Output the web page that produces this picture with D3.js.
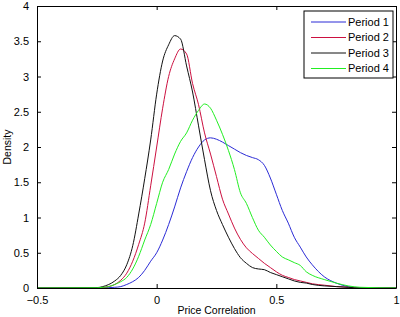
<!DOCTYPE html>
<html>
<head>
<meta charset="utf-8">
<script src="https://cdn.jsdelivr.net/npm/d3@7"></script>
<style>
  body { margin: 0; background: #fff; }
  svg { display: block; font-family: 'Liberation Sans', Arial, sans-serif; }
</style>
</head>
<body>
<div id="chart"></div>
<script>
// price correlation grid (x values)
const xs = [-0.5, -0.25, -0.225, -0.2, -0.175, -0.15, -0.125, -0.1, -0.075, -0.05, -0.025, 0,
  0.025, 0.05, 0.075, 0.1, 0.125, 0.15, 0.175, 0.2, 0.225, 0.25, 0.275, 0.3, 0.325, 0.35,
  0.375, 0.4, 0.425, 0.45, 0.475, 0.5, 0.525, 0.55, 0.575, 0.6, 0.625, 0.65,
  0.7, 0.75, 0.8, 0.85, 1.0]

// densities
const period1 = [0, 0, 0.003, 0.005, 0.01, 0.02, 0.05, 0.09, 0.15, 0.25, 0.38, 0.5,
  0.68, 0.9, 1.15, 1.42, 1.65, 1.85, 2.0, 2.1, 2.13, 2.11, 2.07, 2.02, 1.97, 1.92,
  1.88, 1.85, 1.82, 1.74, 1.56, 1.33, 1.1, 0.92, 0.72, 0.58, 0.44, 0.33,
  0.16, 0.07, 0.02, 0.005, 0]
const period2 = [0, 0.003, 0.008, 0.02, 0.05, 0.11, 0.21, 0.38, 0.62, 0.92, 1.45, 2.0,
  2.55, 3.0, 3.25, 3.39, 3.32, 2.9, 2.6, 2.2, 1.9, 1.58, 1.26, 1.05, 0.85, 0.69,
  0.57, 0.49, 0.42, 0.35, 0.29, 0.23, 0.18, 0.15, 0.12, 0.1, 0.08, 0.06,
  0.04, 0.02, 0.01, 0, 0]
const period3 = [0, 0.005, 0.02, 0.05, 0.1, 0.18, 0.33, 0.6, 1.05, 1.55, 2.1, 2.75,
  3.22, 3.45, 3.58, 3.53, 3.15, 2.78, 2.3, 1.82, 1.38, 1.1, 0.9, 0.72, 0.56, 0.43,
  0.35, 0.29, 0.27, 0.26, 0.22, 0.19, 0.16, 0.13, 0.1, 0.08, 0.07, 0.05,
  0.03, 0.02, 0.01, 0, 0]
const period4 = [0, 0.003, 0.01, 0.02, 0.05, 0.09, 0.15, 0.27, 0.45, 0.68, 0.9, 1.2,
  1.5, 1.68, 1.9, 2.08, 2.2, 2.38, 2.52, 2.61, 2.55, 2.38, 2.18, 1.95, 1.68, 1.35,
  1.2, 1.0, 0.82, 0.72, 0.61, 0.52, 0.44, 0.4, 0.36, 0.32, 0.23, 0.18,
  0.12, 0.07, 0.03, 0.01, 0]

const seriesNames = ['Period 1', 'Period 2', 'Period 3', 'Period 4']
const seriesColors = ['#2b2bd6', '#cc1040', '#111111', '#22ee22']
const xTicks = [-0.5, 0, 0.5, 1]
const yTicks = [0, 0.5, 1, 1.5, 2, 2.5, 3, 3.5, 4]

const series = [period1, period2, period3, period4].map((vals, i) => ({
  name: seriesNames[i],
  color: seriesColors[i],
  values: vals.map((v, j) => ({ x: xs[j], y: v }))
}))

const margin = { top: 6, right: 4, bottom: 29, left: 37 },
  fullWidth = 400,
  fullHeight = 317,
  width = fullWidth - margin.left - margin.right,
  height = fullHeight - margin.top - margin.bottom

const svg = d3.select('#chart')
  .append('svg')
    .attr('width', fullWidth)
    .attr('height', fullHeight)
  .append('g')
    .attr('transform', `translate(${margin.left}, ${margin.top})`)

const xScale = d3.scaleLinear().domain([-0.5, 1]).range([0, width])
const yScale = d3.scaleLinear().domain([0, 4]).range([height, 0])

// curves
const line = d3.line()
  .x(d => xScale(d.x))
  .y(d => yScale(d.y))
  .curve(d3.curveMonotoneX)

svg.selectAll('path.curve')
  .data(series)
  .enter()
  .append('path')
    .attr('class', 'curve')
    .attr('d', d => line(d.values))
    .attr('fill', 'none')
    .attr('stroke', d => d.color)
    .attr('stroke-width', 1)

// box axes, ticks pointing in
const fmt = d => d3.format('')(d)
const styleAxis = g => {
  g.select('.domain').attr('stroke', '#000')
  g.selectAll('.tick line').attr('stroke', '#000')
  g.selectAll('.tick text').attr('fill', '#000').attr('font-size', 11)
}

svg.append('g')
  .attr('transform', `translate(0, ${height})`)
  .call(d3.axisBottom(xScale).tickValues(xTicks).tickFormat(fmt).tickSizeInner(-4).tickSizeOuter(0).tickPadding(8))
  .call(styleAxis)
svg.append('g')
  .call(d3.axisTop(xScale).tickValues(xTicks).tickFormat('').tickSizeInner(-4).tickSizeOuter(0))
  .call(styleAxis)
svg.append('g')
  .call(d3.axisLeft(yScale).tickValues(yTicks).tickFormat(fmt).tickSizeInner(-4).tickSizeOuter(0).tickPadding(8))
  .call(styleAxis)
svg.append('g')
  .attr('transform', `translate(${width}, 0)`)
  .call(d3.axisRight(yScale).tickValues(yTicks).tickFormat('').tickSizeInner(-4).tickSizeOuter(0))
  .call(styleAxis)

// axis labels
svg.append('text')
  .attr('x', width / 2)
  .attr('y', height + 26)
  .attr('text-anchor', 'middle')
  .attr('font-size', 10.5)
  .text('Price Correlation')

svg.append('text')
  .attr('transform', `translate(${-26}, ${height / 2}) rotate(-90)`)
  .attr('text-anchor', 'middle')
  .attr('font-size', 10.5)
  .text('Density')

// legend
const legend = svg.append('g')
  .attr('transform', `translate(${304 - margin.left}, ${11 - margin.top})`)

legend.append('rect')
  .attr('width', 89)
  .attr('height', 67)
  .attr('fill', '#fff')
  .attr('stroke', '#000')

const item = legend.selectAll('g.item')
  .data(series)
  .enter()
  .append('g')
    .attr('class', 'item')
    .attr('transform', (d, i) => `translate(0, ${11 + i * 15.5})`)

item.append('line')
  .attr('x1', 7).attr('x2', 42)
  .attr('stroke', d => d.color)

item.append('text')
  .attr('x', 44)
  .attr('dy', '0.35em')
  .attr('font-size', 11)
  .text(d => d.name)
</script>
</body>
</html>
